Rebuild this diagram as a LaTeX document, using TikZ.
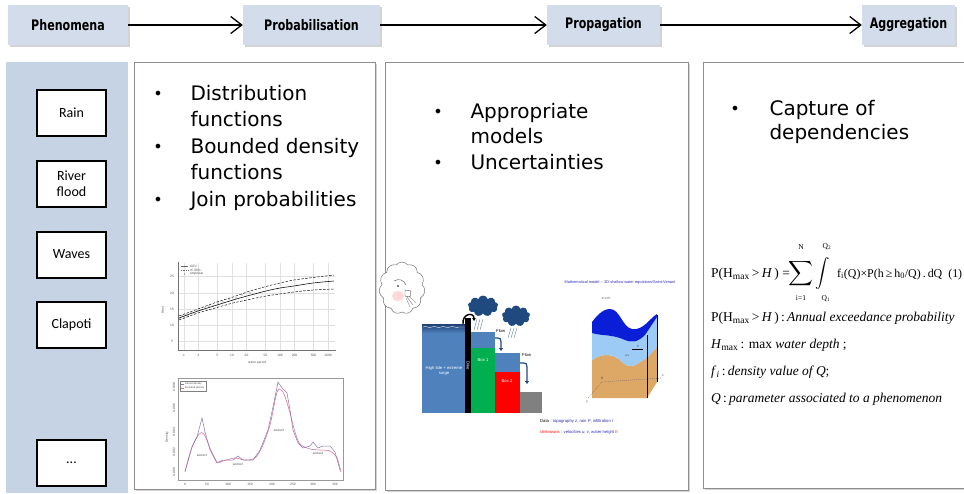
\documentclass[tikz,border=0pt]{standalone}
\usepackage{fontspec}
\usepackage{amsmath}
\usetikzlibrary{arrows.meta,shadows,shapes.symbols,calc}
\newfontfamily\tahfont{DejaVu Sans}
\newfontfamily\tahcond{DejaVu Sans Condensed}
\newfontfamily\calfont{Carlito}
\newfontfamily\tnrfont{Liberation Serif}
\newfontfamily\arialfont{Liberation Sans}
\newcommand\bigtxt{\tahfont\fontsize{20}{24}\selectfont}
\newcommand\tinytxt[1]{\arialfont\fontsize{#1}{#1}\selectfont}
\newcommand\hdrtext[1]{\scalebox{0.85}[1]{#1}}
\definecolor{hdrfill}{HTML}{D3DCEA}
\definecolor{colfill}{HTML}{C6D3E5}
\definecolor{panelline}{HTML}{8E8E8E}
\definecolor{ofblue}{HTML}{4F81BD}
\definecolor{ofdark}{HTML}{1F3F73}
\definecolor{stormblue}{HTML}{1F4A80}
\definecolor{ofgreen}{HTML}{00B050}
\definecolor{ofred}{HTML}{FF0000}
\definecolor{surfblue}{HTML}{0A1ED8}
\definecolor{waterblue}{HTML}{9CCBF5}
\definecolor{sand}{HTML}{DDA766}
\definecolor{kdepurple}{HTML}{8A74B8}
\definecolor{kdepink}{HTML}{D9708C}
\definecolor{txtblue}{HTML}{2E2EB8}
\begin{document}
\begin{tikzpicture}[x=1pt,y=-1pt,
  hdr/.style={fill=hdrfill, draw=none, inner sep=0pt, minimum height=40pt,
    drop shadow={shadow xshift=2pt, shadow yshift=-2pt, opacity=.35, fill=gray},
    font=\tahcond\bfseries\fontsize{14.5}{17}\selectfont},
  chain/.style={line width=1.3pt, -{Straight Barb[length=11pt,width=17pt,line width=1.3pt]}},
  phbox/.style={draw=black, line width=2pt, fill=white, minimum width=69pt,
    minimum height=46pt, inner sep=0pt, align=center,
    font=\calfont\fontsize{14}{16}\selectfont},
  panel/.style={draw=panelline, line width=.8pt, fill=white, inner sep=0pt,
    drop shadow={shadow xshift=1.5pt, shadow yshift=-1.5pt, opacity=.35, fill=gray}},
  bullet/.style={anchor=base, font=\tahfont\fontsize{16}{20}\selectfont},
  item/.style={anchor=base west, font=\bigtxt},
  eqline/.style={anchor=base west, inner sep=0pt, font=\tnrfont\fontsize{13.5}{16}\selectfont},
  eqlim/.style={inner sep=0pt, font=\tnrfont\fontsize{7.5}{8}\selectfont},
  ticklab/.style={inner sep=0pt, text=black!70, font=\tinytxt{3.2}},
  flowarr/.style={stormblue, line width=1.2pt, -{Triangle[length=3pt,width=4pt]}},
  minilab/.style={inner sep=0pt, font=\tinytxt{4.2}}]
\useasboundingbox (0,0) rectangle (964,493);

% ---------- process chain ----------
\node[hdr, minimum width=120pt] (phen) at (68,25) {\hdrtext{Phenomena}};
\node[hdr, minimum width=137pt] (prob) at (311.5,25) {\hdrtext{Probabilisation}};
\node[hdr, minimum width=113pt] (prop) at (603.5,25) {\hdrtext{Propagation}};
\node[hdr, minimum width=93pt]  (aggr) at (908.5,25) {\hdrtext{Aggregation}};
\draw[chain] (phen.east) -- (prob.west);
\draw[chain] (prob.east) -- (prop.west);
\draw[chain] (prop.east) -- (aggr.west);

% ---------- phenomena column ----------
\node[fill=colfill, inner sep=0pt, minimum width=122pt, minimum height=431pt,
  anchor=north west] (col) at (6,62) {};
\node[phbox] (rain)  at (71.5,113) {Rain};
\node[phbox] (river) at (71.5,184) {River\\flood};
\node[phbox] (waves) at (71.5,254.5) {Waves};
\node[phbox] (clap)  at (71.5,324.5) {Clapoti};
\node[phbox] (more)  at (71.5,462.5) {...};

% ---------- panels ----------
\node[panel, minimum width=241pt, minimum height=427pt, anchor=north west] (p1) at (134,62) {};
\node[panel, minimum width=303pt, minimum height=428pt, anchor=north west] (p2) at (385,62) {};
\node[panel, minimum width=275pt, minimum height=426pt, anchor=north west] (p3) at (703,62) {};

% ---------- probabilisation text ----------
\node[bullet] (b11) at (158,99) {•};
\node[item] (t11) at (187,100.5) {Distribution};
\node[item] (t12) at (187,126.5) {functions};
\node[bullet] (b12) at (158,152) {•};
\node[item] (t13) at (187,153) {Bounded density};
\node[item] (t14) at (187,179.5) {functions};
\node[bullet] (b13) at (158,205) {•};
\node[item] (t15) at (187,206.5) {Join probabilities};

% ---------- return-level chart ----------
\foreach \gx in {184,198.4,217.5,232,246.5,265.5,280,294.5,313.5,328}
  \draw[black!12, line width=.25pt] (\gx,263) -- (\gx,350);
\foreach \gy in {276,293,309,325,341}
  \draw[black!12, line width=.25pt] (178,\gy) -- (335,\gy);
\draw[black!55, line width=.35pt] (178,262) -- (178,350) -- (336,350);
\foreach \gx/\lab in {184/1,198.4/2,217.5/5,232/10,246.5/20,265.5/50,280/100,294.5/200,313.5/500,328/1000}
  \node[ticklab] (rx\lab) at (\gx,355) {\lab};
\foreach \gy/\lab in {276/25,293/20,309/15,325/10,341/5}
  \node[ticklab] (ry\lab) at (172,\gy) {\lab};
\node[ticklab, rotate=90] (rylab) at (163,310) {H(m)};
\node[ticklab] (rxlab) at (257,363) {return period};
\draw[black, line width=.55pt] plot[smooth] coordinates
  {(179,318) (198,311) (217,305) (233,300) (247,296) (266,291) (280,288) (294,286) (313,283) (334,281)};
\draw[black, line width=.45pt, dash pattern=on 2.5pt off 1.5pt] plot[smooth] coordinates
  {(179,316) (198,309) (217,302) (233,297) (247,292) (266,286.5) (280,283) (294,280) (313,277.5) (334,275)};
\draw[black, line width=.45pt, dash pattern=on 2.5pt off 1.5pt] plot[smooth] coordinates
  {(179,320) (198,313) (217,307.5) (233,303) (247,300) (266,296) (280,294) (294,292) (313,290) (334,289)};
\foreach \px/\py in {180/319,182/316,184/318,186/315,188/316,191/313,194/313,197/311,201/310,205/308,209/306,213/306,218/303,223/302,229/299,236/298,242/295,250/293}
  \fill[black!70] (\px,\py) circle (.6pt);
\draw[black!60, line width=.3pt] (181,266) -- (188,266);
\draw[black!60, line width=.3pt, dash pattern=on 1pt off .7pt] (181,270) -- (188,270);
\fill[black!70] (184.5,274) circle (.5pt);
\node[ticklab, anchor=west] (lg1) at (190,266) {GEV};
\node[ticklab, anchor=west] (lg2) at (190,270) {IC 95\%};
\node[ticklab, anchor=west] (lg3) at (190,274) {empirical};

% ---------- density chart ----------
\draw[black!40, line width=.3pt] (178,378) rectangle (343,480);
\foreach \gx/\lab in {185/0,207/50,228/100,250/150,272/200,293/250,313/300,335/350}
  \node[ticklab] (dx\lab) at (\gx,484) {\lab};
\foreach \gy/\lab in {387/0.008,408/0.006,432/0.004,452/0.002,472/0.000}
  \node[ticklab, rotate=90] (dy\gy) at (174,\gy) {\lab};
\node[ticklab, rotate=90] (dylab) at (167,437) {Density};
\draw[kdepink, line width=.55pt] plot[smooth] coordinates
  {(185,471) (192,447) (199,434) (204,434) (210,448) (217,462) (223,461) (235,458) (245,460) (255,458) (262,447) (270,425) (276,396) (279,389) (284,394) (290,413) (295,432) (300,444) (310,449) (320,450) (330,451) (337,458) (341,472)};
\draw[kdepurple, line width=.5pt] (185,472) -- (192,447) -- (197,437) -- (202,418) -- (205,432) -- (210,450) -- (217,463) -- (223,460) -- (233,460) -- (238,456) -- (243,460) -- (253,460) -- (260,450) -- (268,430) -- (273,407) -- (278,382) -- (282,388) -- (287,393) -- (290,410) -- (293,430) -- (298,443) -- (303,448) -- (310,446) -- (313,442) -- (318,448) -- (323,446) -- (330,446) -- (335,452) -- (340,470);
\draw[black!50, line width=.3pt] (180,381) rectangle (206,391);
\draw[kdepurple, line width=.3pt] (181,384) -- (184,384);
\draw[kdepink, line width=.3pt] (181,388) -- (184,388);
\node[ticklab, anchor=west, font=\tinytxt{2.6}] (kl1) at (185,384) {Kernel density};
\node[ticklab, anchor=west, font=\tinytxt{2.6}] (kl2) at (185,388) {bounded density};
\node[ticklab] (sec1) at (202,455) {sector1};
\node[ticklab] (sec2) at (238,464) {sector2};
\node[ticklab] (sec3) at (279,430) {sector3};
\node[ticklab] (sec4) at (318,453) {sector4};

% ---------- propagation text ----------
\node[bullet] (b21) at (438,117) {•};
\node[item] (t21) at (467,118) {Appropriate};
\node[item] (t22) at (467,143.5) {models};
\node[bullet] (b22) at (438,168) {•};
\node[item] (t23) at (467,169.5) {Uncertainties};

% ---------- storm cartoon ----------
\node[cloud, cloud puffs=11, cloud puff arc=110, aspect=.85, draw=black!55, fill=white,
  line width=.5pt, minimum width=46pt, minimum height=52pt, inner sep=0pt] (cartoon) at (402,288) {};
\fill[red!15] (398,296) ellipse (6pt and 5pt);
\draw[black!70, line width=.4pt] (394,281) .. controls (399,278) and (404,280) .. (406,285);
\draw[black!70, line width=.4pt] (405,290) -- (411,291) -- (410,297) -- (405,296) -- cycle;
\draw[black!60, line width=.3pt] (407,297) -- (413,305) (409,296) -- (416,303) (406,298) -- (410,307);
\fill[black] (398,286) circle (.9pt);

% ---------- storage boxes ----------
\fill[ofblue] (422,324) rectangle (466,413);
\shade[top color=ofdark, bottom color=ofblue] (422,324) rectangle (466,333);
\draw[white!80!ofblue, line width=.4pt] (423,327) .. controls (426,325) and (429,329) .. (432,327)
  .. controls (435,325) and (438,329) .. (441,327) .. controls (444,325) and (447,329) .. (450,327)
  .. controls (453,325) and (456,329) .. (459,327) .. controls (461,326) and (463,328) .. (465,327);
\node[minilab, text=white, align=center] (tide) at (444,371) {High tide + extreme\\surge};
\fill[black] (465,318) rectangle (471,413);
\draw[black, line width=1.4pt, -{Triangle[length=3pt,width=3.5pt]}] (463,324) .. controls (462,313) and (474,312) .. (474,321);
\node[minilab, text=white, rotate=-90] (dike) at (468,366) {Dike};
\fill[ofblue] (471,332) rectangle (495,348);
\fill[ofgreen] (471,348) rectangle (495,413);
\node[minilab, text=white] (box1) at (483,360) {Box 1};
\fill[ofblue] (495,353) rectangle (520,372);
\fill[ofred] (495,372) rectangle (520,413);
\node[minilab, text=white] (box2) at (507,381) {Box 2};
\fill[black!50] (520,392) rectangle (542,413);
\draw[flowarr] (495,338) -- (498,338) .. controls (500,338) and (501,339) .. (501,342) -- (501,351);
\draw[flowarr] (520,363) -- (524,363) .. controls (526,363) and (527,364) .. (527,367) -- (527,384);
\node[minilab, anchor=west] (flow1) at (496,331) {Flow};
\node[minilab, anchor=west] (flow2) at (522,355) {Flow};
\node[cloud, cloud puffs=9, aspect=1.5, fill=stormblue, minimum width=30pt, minimum height=21pt, inner sep=0pt] (storm1) at (483,306) {};
\node[cloud, cloud puffs=9, aspect=1.4, fill=stormblue, minimum width=28pt, minimum height=21pt, inner sep=0pt] (storm2) at (516,316) {};
\foreach \rx in {477,480,483}
  \draw[stormblue!60, line width=.5pt] (\rx,319) -- (\rx-3,330);
\foreach \rx in {511,514,517}
  \draw[stormblue!60, line width=.5pt] (\rx,328) -- (\rx-3,338);

% ---------- shallow water block ----------
\node[minilab, text=txtblue, font=\tinytxt{3.9}] (swtitle) at (620,282) {Mathematical model -- 2D shallow water equations/Saint-Venant};
\fill[sand] (592,398) -- (647,398) -- (657,382) -- (657,347) -- (647,358) -- (640,362)
  .. controls (634,367) and (628,368) .. (622,362) .. controls (614,354) and (604,352) .. (592,360) -- cycle;
\fill[waterblue] (592,360) .. controls (604,352) and (614,354) .. (622,362)
  .. controls (628,368) and (634,367) .. (640,362) -- (647,358) -- (657,347) -- (657,317)
  -- (645,335) .. controls (638,342) and (632,343) .. (625,340) .. controls (612,334) and (600,336) .. (592,333) -- cycle;
\fill[surfblue] (592,333) .. controls (600,336) and (612,334) .. (625,340)
  .. controls (632,343) and (638,342) .. (645,335) -- (657,317) -- (657,314)
  .. controls (650,318) and (643,331) .. (632,329) .. controls (622,327) and (620,309) .. (610,309)
  .. controls (602,309) and (596,317) .. (592,322) -- cycle;
\draw[black, line width=.5pt] (647,335) -- (647,398) (657,315) -- (657,382);
\draw[black!60, line width=.3pt, dash pattern=on 1pt off 1pt] (602,382) -- (662,378) (602,382) -- (588,398);
\draw[black, line width=.6pt] (632,349) -- (643,349);
\node[ticklab] (swz) at (606,298) {z=z+h};
\node[ticklab] (swo) at (602,378) {O};
\node[ticklab] (swx) at (663,376) {x};
\node[ticklab] (swy) at (587,402) {y};
\node[ticklab] (swh) at (638,346) {h};
\node[ticklab] (swu) at (627,356) {u,v};
\node[minilab, anchor=west, text=txtblue] (data) at (540,421) {\textcolor{black}{Data} : topography \textit{z}, rain \textit{P}, infiltration \textit{I}};
\node[minilab, anchor=west, text=txtblue] (unk) at (540,432) {\textcolor{ofred}{Unknowns} : velocities \textit{u, v}, water height \textcolor{ofred}{\textit{h}}};

% ---------- aggregation text ----------
\node[bullet] (b31) at (735,114) {•};
\node[item] (t31) at (766,115) {Capture of};
\node[item] (t32) at (766,139.5) {dependencies};
% equation (1), assembled piece by piece
\node[eqline] (eqlhs) at (711,277) {P(H\textsubscript{max}\,>\,\textit{H}\,) =};
\node[inner sep=0pt, font=\fontsize{16}{18}\selectfont] (eqsum) at (801,274) {$\displaystyle\sum$};
\node[eqlim] (eqsumtop) at (801,247.5) {N};
\node[eqlim] (eqsumbot) at (801,298) {i=1};
\node[inner sep=0pt, font=\fontsize{15}{17}\selectfont] (eqint) at (823,273) {$\displaystyle\int$};
\node[eqlim] (eqinttop) at (827,247) {Q\textsubscript{2}};
\node[eqlim] (eqintbot) at (826,299) {Q\textsubscript{1}};
\node[eqline] (eqrhs) at (837,277) {\resizebox{125pt}{!}{f\textsubscript{i}(Q)\texttimes P(h\,≥\,h\textsubscript{0}/Q)\,.\,dQ\ \ (1)}};
\node[eqline] (eq2) at (711,321) {P(H\textsubscript{max}\,>\,\textit{H}\,)\,:\,\textit{Annual exceedance probability}};
\node[eqline] (eq3) at (711,348) {\textit{H}\textsubscript{max}\,: max \textit{water depth} ;};
\node[eqline] (eq4) at (711,375) {\textit{f}\textsubscript{\textit{i}}\,:\,\textit{density value of Q};};
\node[eqline] (eq5) at (711,402) {\textit{Q}\,:\,\textit{parameter associated to a phenomenon}};
\end{tikzpicture}
\end{document}
